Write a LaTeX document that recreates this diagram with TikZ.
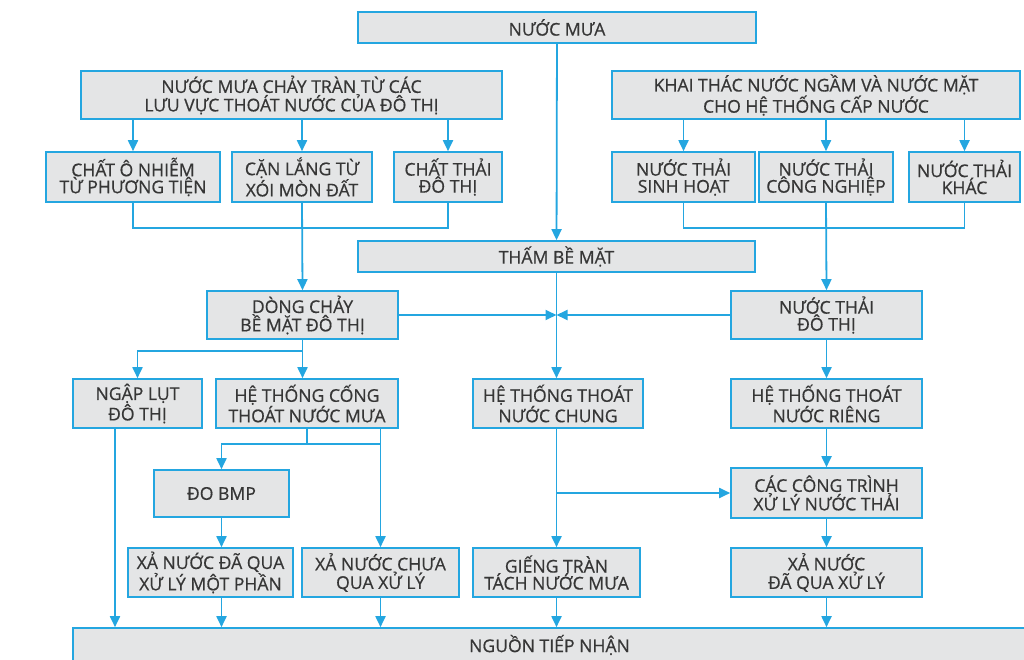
\documentclass[tikz,border=0pt]{standalone}
\usepackage{fontspec}
\setmainfont{Open Sans}
\newfontfamily\flowfont{Open Sans}[FakeBold=0.6]
\usetikzlibrary{arrows.meta,positioning,calc}
\definecolor{flowblue}{HTML}{24A6E0}
\definecolor{boxgrey}{HTML}{E4E5E6}
\definecolor{inkgrey}{HTML}{363636}

\begin{document}
\begin{tikzpicture}[
  x=1pt, y=-1pt,
  box/.style={draw=flowblue, fill=boxgrey, line width=1.6pt, inner sep=0pt, align=center, text=inkgrey, font=\flowfont\fontsize{17.6}{17}\selectfont},
  line/.style={flowblue, line width=1.8pt},
  arrow/.style={line, -{Triangle[length=11pt,width=10pt]}},
]
\useasboundingbox (0,0) rectangle (1024,660);

% top row
\node[box, minimum width=398, minimum height=31] (rain) at (557,27.5) {NƯỚC MƯA};
\node[box, minimum width=421, minimum height=48] (runoff) at (291.5,95) {NƯỚC MƯA CHẢY TRÀN TỪ CÁC\\LƯU VỰC THOÁT NƯỚC CỦA ĐÔ THỊ};
\node[box, minimum width=408, minimum height=48] (supply) at (816,95) {KHAI THÁC NƯỚC NGẦM VÀ NƯỚC MẶT\\CHO HỆ THỐNG CẤP NƯỚC};

% sources
\node[box, minimum width=174, minimum height=50] (vehicle) at (133,177) {CHẤT Ô NHIỄM\\TỪ PHƯƠNG TIỆN};
\node[box, minimum width=140, minimum height=50] (sediment) at (302,177) {CẶN LẮNG TỪ\\XÓI MÒN ĐẤT};
\node[box, minimum width=108, minimum height=50] (urbanwaste) at (448,177) {CHẤT THẢI\\ĐÔ THỊ};
\node[box, minimum width=143, minimum height=50] (domestic) at (683.5,177) {NƯỚC THẢI\\SINH HOẠT};
\node[box, minimum width=134, minimum height=50] (industrial) at (826,177) {NƯỚC THẢI\\CÔNG NGHIỆP};
\node[box, minimum width=111, minimum height=50] (otherwaste) at (964.5,177) {NƯỚC THẢI\\KHÁC};

% middle
\node[box, minimum width=397, minimum height=31] (infil) at (556.5,256.5) {THẤM BỀ MẶT};
\node[box, minimum width=191, minimum height=48] (surface) at (302.5,315) {DÒNG CHẢY\\BỀ MẶT ĐÔ THỊ};
\node[box, minimum width=191, minimum height=48] (urbanww) at (826.5,315) {NƯỚC THẢI\\ĐÔ THỊ};
\node[box, minimum width=129, minimum height=49] (flood) at (137.5,403.5) {NGẬP LỤT\\ĐÔ THỊ};
\node[box, minimum width=182, minimum height=49] (storm) at (307,403.5) {HỆ THỐNG CỐNG\\THOÁT NƯỚC MƯA};
\node[box, minimum width=170, minimum height=49] (combined) at (558,403.5) {HỆ THỐNG THOÁT\\NƯỚC CHUNG};
\node[box, minimum width=191, minimum height=49] (separate) at (826.5,403.5) {HỆ THỐNG THOÁT\\NƯỚC RIÊNG};

% treatment and discharge
\node[box, minimum width=135, minimum height=47] (bmp) at (221.5,493.5) {ĐO BMP};
\node[box, minimum width=191, minimum height=50] (treatment) at (826.5,493) {CÁC CÔNG TRÌNH\\XỬ LÝ NƯỚC THẢI};
\node[box, minimum width=165, minimum height=49] (partial) at (210.5,572.5) {XẢ NƯỚC ĐÃ QUA\\XỬ LÝ MỘT PHẦN};
\node[box, minimum width=157, minimum height=49] (untreated) at (380.5,572.5) {XẢ NƯỚC CHƯA\\QUA XỬ LÝ};
\node[box, minimum width=167, minimum height=49] (overflow) at (556.5,572.5) {GIẾNG TRÀN\\TÁCH NƯỚC MƯA};
\node[box, minimum width=191, minimum height=49] (treated) at (826.5,572.5) {XẢ NƯỚC\\ĐÃ QUA XỬ LÝ};
\node[box, minimum width=953, minimum height=34] (receiver) at (549.5,645) {NGUỒN TIẾP NHẬN};

% junction points
\coordinate (jl) at (303,228);
\coordinate (jr) at (826,228);
\coordinate (jb) at (0,444);
\coordinate (jc) at (0,493);

% connectors
\draw[arrow] (rain) -- (infil);
\draw[arrow] (runoff.south -| vehicle) -- (vehicle);
\draw[arrow] (runoff.south -| sediment) -- (sediment);
\draw[arrow] (runoff.south -| urbanwaste) -- (urbanwaste);
\draw[arrow] (supply.south -| domestic) -- (domestic);
\draw[arrow] (supply.south -| industrial) -- (industrial);
\draw[arrow] (supply.south -| otherwaste) -- (otherwaste);

\draw[line] (vehicle.south) |- (jl) -| (urbanwaste.south);
\draw[arrow] (sediment.south) -- (surface.north);
\draw[line] (domestic.south) |- (jr) -| (otherwaste.south);
\draw[arrow] (industrial.south) -- (urbanww.north);

\draw[arrow] (infil.south) -- (infil.south |- combined.north);
\draw[arrow] (surface.east) -- (infil.south |- surface.east);
\draw[arrow] (urbanww.west) -- (infil.south |- urbanww.west);

\draw[arrow] (surface.south) -- (surface.south |- storm.north);
\draw[arrow] ($(surface.south)!0.3!(surface.south |- storm.north)$) -| (flood.north);
\draw[arrow] (urbanww.south) -- (separate.north);

\draw[arrow] ([xshift=-22.5pt]flood.south) -- ([xshift=-22.5pt]flood.south |- receiver.north);
\draw[line] (storm.south) -- (storm.south |- jb);
\draw[arrow] (untreated.north |- jb) -| (bmp.north);
\draw[arrow] (untreated.north |- storm.south) -- (untreated.north);
\draw[arrow] (bmp.south) -- (bmp.south |- partial.north);
\draw[arrow] (bmp.south |- partial.south) -- (bmp.south |- receiver.north);
\draw[arrow] (untreated.south) -- (untreated.south |- receiver.north);

\draw[arrow] (combined.south -| infil.south) -- (infil.south |- overflow.north);
\draw[arrow] (infil.south |- jc) -- (treatment.west);
\draw[arrow] (separate.south) -- (treatment.north);
\draw[arrow] (treatment.south) -- (treated.north);
\draw[arrow] (treated.south) -- (treated.south |- receiver.north);
\draw[arrow] (overflow.south -| infil.south) -- (infil.south |- receiver.north);

\end{tikzpicture}
\end{document}
